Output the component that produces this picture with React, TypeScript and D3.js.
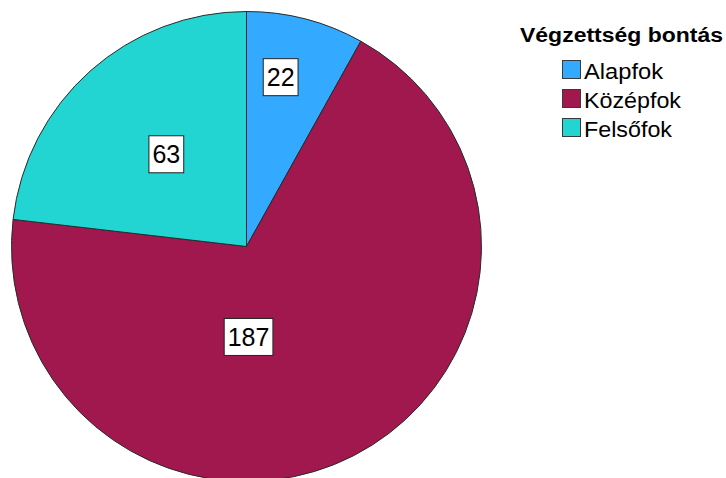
import React, { useEffect, useRef } from "react";
import * as d3 from "d3";

// data
const categories = ["Alapfok", "Középfok", "Felsőfok"];
const counts = [22, 187, 63];
const colors = ["#33aaff", "#a0184e", "#22d5d3"];
const legendTitle = "Végzettség bontás";

// where the value boxes sit (angle in degrees from top, fraction of radius)
const labelAngles = [11.4, 178.7, 319];
const labelRadii = [0.735, 0.385, 0.52];

const width = 726;
const height = 478;
const cx = 246.5;
const cy = 246.5;
const radius = 235;

function App() {
  const svgRef = useRef<SVGSVGElement>(null);

  useEffect(() => {
    document.body.style.margin = "0";
    document.body.style.overflow = "hidden";

    const svg = d3.select(svgRef.current);
    svg.selectAll("*").remove();

    const rows = categories.map((c, i) => ({ name: c, value: counts[i], color: colors[i], i }));

    const pie = d3.pie<any>().sort(null).value((d) => d.value);
    const arc = d3.arc<any>().innerRadius(0).outerRadius(radius);

    const g = svg.append("g").attr("transform", `translate(${cx},${cy})`);

    g.selectAll("path")
      .data(pie(rows))
      .enter()
      .append("path")
      .attr("d", arc)
      .attr("fill", (d) => d.data.color)
      .attr("stroke", "#2a2a2a")
      .attr("stroke-width", 1);

    // value labels
    const labels = g.selectAll("g.lbl")
      .data(rows)
      .enter()
      .append("g")
      .attr("class", "lbl")
      .attr("transform", (d) => {
        const a = (labelAngles[d.i] * Math.PI) / 180;
        const r = labelRadii[d.i] * radius;
        return `translate(${r * Math.sin(a)},${-r * Math.cos(a)})`;
      });

    labels.each(function (d) {
      const sel = d3.select(this);
      const t = sel.append("text")
        .attr("text-anchor", "middle")
        .attr("y", 9)
        .attr("font-family", "Liberation Sans, Arial, sans-serif")
        .attr("font-size", 25)
        .attr("fill", "#000")
        .text(String(d.value));
      const w = (t.node() as SVGTextElement).getComputedTextLength() + 7;
      sel.insert("rect", "text")
        .attr("x", -w / 2)
        .attr("y", -18.5)
        .attr("width", w)
        .attr("height", 37)
        .attr("fill", "#fff")
        .attr("stroke", "#222")
        .attr("stroke-width", 1);
    });

    // legend
    const leg = svg.append("g");
    leg.append("text")
      .attr("x", 520)
      .attr("y", 42)
      .attr("font-family", "Liberation Sans, Arial, sans-serif")
      .attr("font-weight", "bold")
      .attr("font-size", 20)
      .attr("textLength", 203)
      .attr("lengthAdjust", "spacingAndGlyphs")
      .text(legendTitle);

    const legY = d3.scaleBand<number>().domain(rows.map((d) => d.i)).range([60, 147]);
    const widths = [79, 97, 88];

    const item = leg.selectAll("g.item")
      .data(rows)
      .enter()
      .append("g")
      .attr("class", "item")
      .attr("transform", (d) => `translate(562,${legY(d.i)})`);

    item.append("rect")
      .attr("x", 0.5)
      .attr("y", 0.5)
      .attr("width", 18)
      .attr("height", 18)
      .attr("fill", (d) => d.color)
      .attr("stroke", "#3a3a3a")
      .attr("stroke-width", 1);

    item.append("text")
      .attr("x", 22)
      .attr("y", 19)
      .attr("font-family", "Liberation Sans, Arial, sans-serif")
      .attr("font-size", 22)
      .attr("textLength", (d) => widths[d.i])
      .attr("lengthAdjust", "spacingAndGlyphs")
      .attr("fill", "#000")
      .text((d) => d.name);
  }, []);

  return <svg ref={svgRef} width={width} height={height} style={{ display: "block", background: "#fff" }} />;
}

export default App;
